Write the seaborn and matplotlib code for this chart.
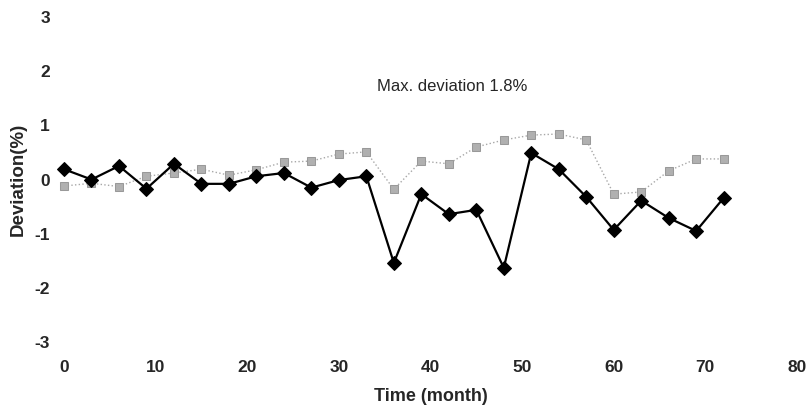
import matplotlib
matplotlib.use("Agg")
import matplotlib.pyplot as plt
import seaborn as sns
import pandas as pd

months = [0, 3, 6, 9, 12, 15, 18, 21, 24, 27, 30, 33, 36, 39, 42, 45, 48, 51, 54, 57, 60, 63, 66, 69, 72]
dev_black = [0.19, 0.0, 0.25, -0.17, 0.29, -0.08, -0.08, 0.06, 0.12, -0.15, -0.01, 0.06, -1.54, -0.27,
             -0.64, -0.56, -1.63, 0.49, 0.19, -0.32, -0.93, -0.39, -0.71, -0.95, -0.34]
dev_gray = [-0.12, -0.07, -0.13, 0.06, 0.12, 0.19, 0.08, 0.18, 0.32, 0.34, 0.47, 0.51, -0.18, 0.34,
            0.29, 0.60, 0.73, 0.82, 0.84, 0.73, -0.27, -0.23, 0.16, 0.38, 0.38]
x_ticks = [0, 10, 20, 30, 40, 50, 60, 70, 80]
y_ticks = [-3, -2, -1, 0, 1, 2, 3]
annotation = "Max. deviation 1.8%"

sns.set_style("white")
plt.rcParams['font.family'] = ['Liberation Sans', 'DejaVu Sans']

df = pd.DataFrame({"month": months, "black": dev_black, "gray": dev_gray})

fig = plt.figure(figsize=(8.06, 4.12), dpi=100)
ax = fig.add_axes([0.0794, 0.1699, 0.9094, 0.7888])

sns.lineplot(data=df, x="month", y="gray", ax=ax, color="#a8a8a8", linestyle=":", linewidth=1.0,
             marker="s", markersize=6, markeredgecolor="#999999", markerfacecolor="#b0b0b0", zorder=2)
sns.lineplot(data=df, x="month", y="black", ax=ax, color="black", linestyle="-", linewidth=1.6,
             marker="D", markersize=7.5, markeredgecolor="black", markerfacecolor="black", zorder=3)
for ln in ax.lines:
    ln.set_clip_on(False)

ax.set_xlim(0, 80)
ax.set_ylim(-3, 3)
ax.set_xticks(x_ticks)
ax.set_yticks(y_ticks)
ax.set_xticklabels([str(t) for t in x_ticks], fontsize=12.5, fontweight="bold")
ax.set_yticklabels([str(t) for t in y_ticks], fontsize=12.5, fontweight="bold")
ax.tick_params(axis="both", length=0)
ax.tick_params(axis="x", pad=13)
ax.tick_params(axis="y", pad=10)
for s in ax.spines.values():
    s.set_visible(False)
ax.grid(False)

ax.set_xlabel("Time (month)", fontsize=13, fontweight="bold", labelpad=9)
ax.set_ylabel("Deviation(%)", fontsize=13.5, fontweight="bold", labelpad=6)

ax.text(42.4, 1.72, annotation, fontsize=12, ha="center", va="center")

fig.savefig("out.png", dpi=100)
